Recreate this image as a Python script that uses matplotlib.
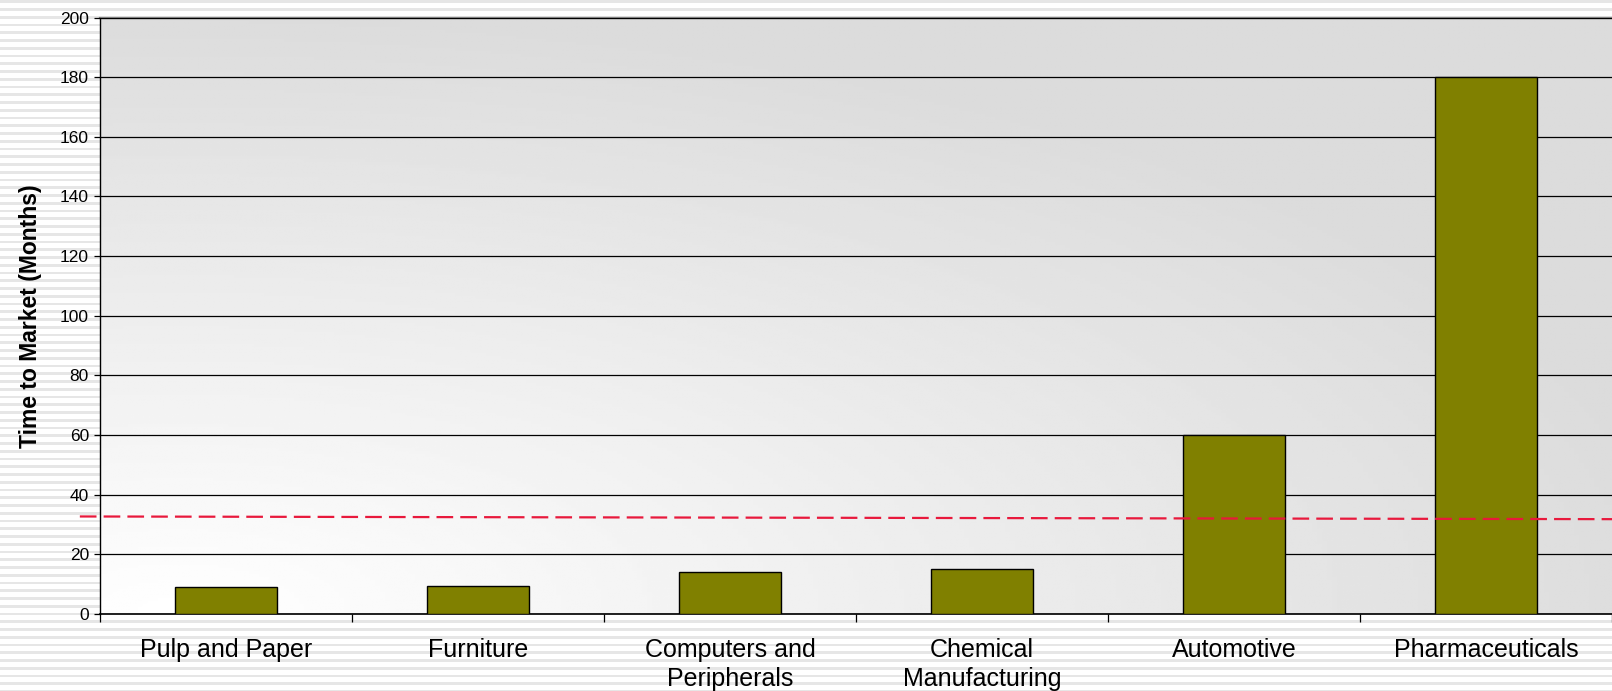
import matplotlib
matplotlib.use("Agg")
import matplotlib.pyplot as plt
import numpy as np

plt.rcParams['font.family'] = ['Liberation Sans', 'DejaVu Sans']

# data
industries = ['Pulp and Paper', 'Furniture', 'Computers and\nPeripherals',
              'Chemical\nManufacturing', 'Automotive', 'Pharmaceuticals']
months = [9, 9.5, 14, 15, 60, 180]
# red dashed reference line (value at left end, value at right end)
ref_line = [32.7, 31.8]

W, H = 1612, 691
fig = plt.figure(figsize=(W / 100, H / 100), dpi=100)

# striped slide background
bg = fig.add_axes([0, 0, 1, 1], zorder=-10)
rows = np.arange(H)
phase = (rows % 7.75)
stripe = np.where(phase < 2.6, 0.90, 1.0)
bg.imshow(np.tile(stripe[:, None], (1, 4)), cmap='gray', vmin=0, vmax=1,
          aspect='auto', interpolation='nearest', extent=[0, 1, 0, 1])
bg.axis('off')

ax = fig.add_axes([100 / W, 77 / H, 1 - 100 / W, (614 - 17.5) / H])
x = np.arange(len(industries))
ax.set_xlim(-0.5, len(industries) - 0.5)
ax.set_ylim(0, 200)

# gradient plot area (light at bottom left, grey to top and right)
gx, gy = np.meshgrid(np.linspace(0, 1, 300), np.linspace(0, 1, 200))
r = np.clip(np.sqrt((gx - 0.05) ** 2 + gy ** 2), 0, 1)
grad = 1.0 - r * (1.0 - 0xdc / 255)
ax.imshow(grad, cmap='gray', vmin=0, vmax=1, aspect='auto', origin='lower',
          extent=[-0.5, len(industries) - 0.5, 0, 200], zorder=0)

ax.set_yticks(np.arange(0, 201, 20))
ax.yaxis.grid(True, color='black', linewidth=0.9, zorder=1)
ax.set_axisbelow(False)
ax.grid(False, axis='x')

ax.bar(x, months, width=0.405, color='#808000', edgecolor='black',
       linewidth=1.0, zorder=3)

ax.plot([-0.58, len(industries) - 0.5], ref_line, color='#e8193c',
        linewidth=1.6, linestyle=(0, (7.5, 3.2)), clip_on=False, zorder=4)

ax.set_xticks(x)
ax.set_xticklabels(industries, fontsize=18, linespacing=1.3)
ax.set_xticks(np.arange(-0.5, len(industries), 1), minor=True)
ax.tick_params(axis='x', which='major', length=0, pad=17)
ax.tick_params(axis='x', which='minor', length=6, width=0.9, color='black')
ax.tick_params(axis='y', length=4, width=0.9, labelsize=12.5, pad=4)

ax.set_ylabel('Time to Market (Months)', fontsize=16.5, fontweight='bold',
              labelpad=13)

for s in ['right']:
    ax.spines[s].set_visible(False)
ax.spines['top'].set_color('#808080')
ax.spines['top'].set_linewidth(1.6)
ax.spines['left'].set_color('black')
ax.spines['bottom'].set_color('black')
ax.spines['bottom'].set_linewidth(1.2)
ax.spines['left'].set_linewidth(1.0)

fig.savefig('out.png', dpi=100, facecolor='white')
